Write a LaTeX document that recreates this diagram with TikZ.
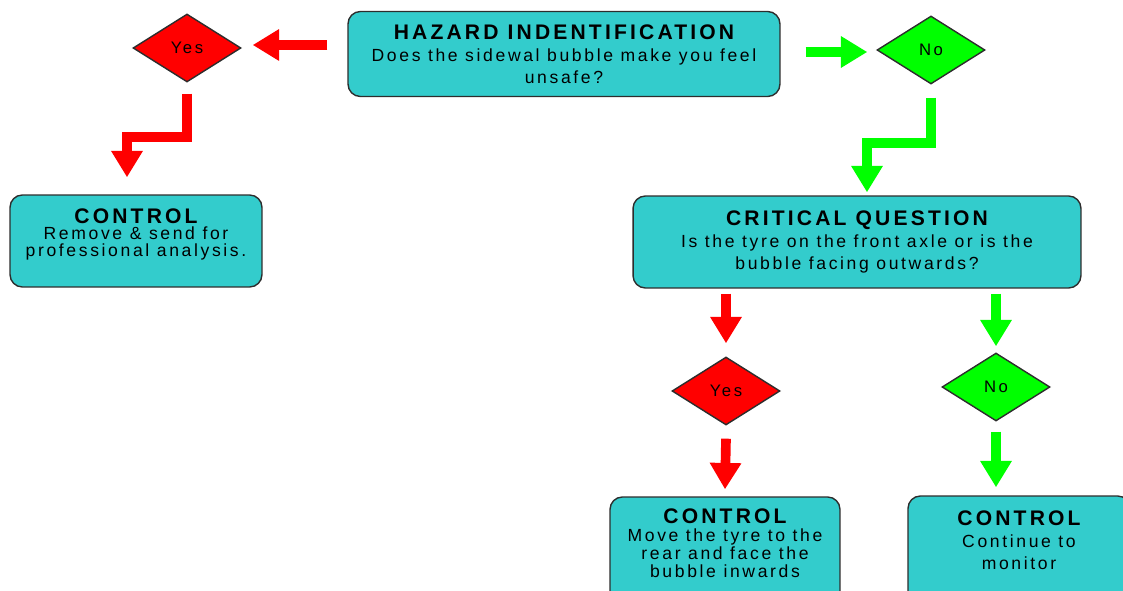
\documentclass[tikz,border=0pt]{standalone}
\usepackage{fontspec}
\setmainfont{Liberation Sans}[LetterSpace=15]
\usetikzlibrary{shapes.geometric,arrows.meta,calc}
\definecolor{boxcyan}{RGB}{51,204,204}
\definecolor{edgegray}{RGB}{45,45,45}
\definecolor{yesred}{RGB}{255,0,0}
\definecolor{nogreen}{RGB}{0,255,0}
\newcommand{\heading}[1]{{\fontsize{12}{13}\selectfont\bfseries #1}}

\begin{document}
\begin{tikzpicture}[x=0.02cm, y=-0.02cm,
    box/.style={draw=edgegray, line width=0.8pt, fill=boxcyan, rounded corners=7pt,
      align=center, inner sep=0pt, font=\fontsize{10}{12.5}\selectfont},
    choice/.style={diamond, draw=edgegray, line width=0.8pt, minimum width=2.16cm,
      minimum height=1.36cm, inner sep=0pt, font=\fontsize{9.5}{11}\selectfont},
    flow/.style={line width=5.5pt, -{Triangle[width=17pt,length=15pt]}},
    redflow/.style={flow, draw=yesred},
    greenflow/.style={flow, draw=nogreen}]
    \useasboundingbox (0,0) rectangle (1123,591);
    \clip (0,0) rectangle (1123,591);

    % question at the top
    \node[box, minimum width=8.64cm, minimum height=1.7cm] (hazard) at (564,54)
      {\heading{HAZARD INDENTIFICATION}\\Does the sidewal bubble make you feel\\unsafe?};
    \node[choice, fill=yesred] (yesA) at (187,48) {Yes};
    \node[choice, fill=nogreen] (noA) at (931,50) {No};
    \node[box, minimum width=5.04cm, minimum height=1.84cm,
      font=\fontsize{10}{9.6}\selectfont] (ctrlA) at (136,241)
      {\heading{CONTROL}\\Remove \& send for\\professional analysis.\\\mbox{}};

    % second question
    \node[box, minimum width=8.96cm, minimum height=1.84cm] (critical) at (857,242)
      {\heading{CRITICAL QUESTION}\\Is the tyre on the front axle or is the\\bubble facing outwards?};
    \node[choice, fill=yesred] (yesB) at (726,391) {Yes};
    \node[choice, fill=nogreen] (noB) at (996,387) {No};
    \node[box, minimum width=4.6cm, minimum height=2.2cm,
      font=\fontsize{10}{10.2}\selectfont] (ctrlB) at (725,552)
      {\heading{CONTROL}\\Move the tyre to the\\rear and face the\\bubble inwards\\\mbox{}};
    \node[box, minimum width=4.44cm, minimum height=2.2cm] (ctrlC) at (1019,551)
      {\heading{CONTROL}\\Continue to\\monitor\\\mbox{}};

    % arrows
    \coordinate (redtip) at ($(ctrlA.north)+(-9,-17)$);
    \coordinate (greentip) at ($(critical.north)+(10,-3)$);
    \coordinate (redtop) at (critical.south -| yesB.north);
    \coordinate (greentop) at (critical.south -| noB.north);
    \coordinate (greenlow) at (ctrlC.north -| noB.south);
    \draw[redflow] ($(hazard.west)+(-20,-9)$) -- ($(yesA.east)+(11,-3)$);
    \draw[redflow] ($(yesA.south)+(0,11)$) -- ++(0,43) -| (redtip);
    \draw[greenflow] ($(hazard.east)+(25,-2)$) -- ($(noA.west)+(-9,2)$);
    \draw[greenflow] ($(noA.south)+(0,13)$) -- ++(0,45) -| (greentip);
    \draw[redflow] ($(redtop)+(0,5)$) -- ($(yesB.north)+(0,-13)$);
    \draw[redflow] ($(yesB.south)+(0,13)$) -- ($(ctrlB.north)+(0,-7)$);
    \draw[greenflow] ($(greentop)+(0,5)$) -- ($(noB.north)+(0,-6)$);
    \draw[greenflow] ($(noB.south)+(0,10)$) -- ($(greenlow)+(0,-8)$);
\end{tikzpicture}
\end{document}
